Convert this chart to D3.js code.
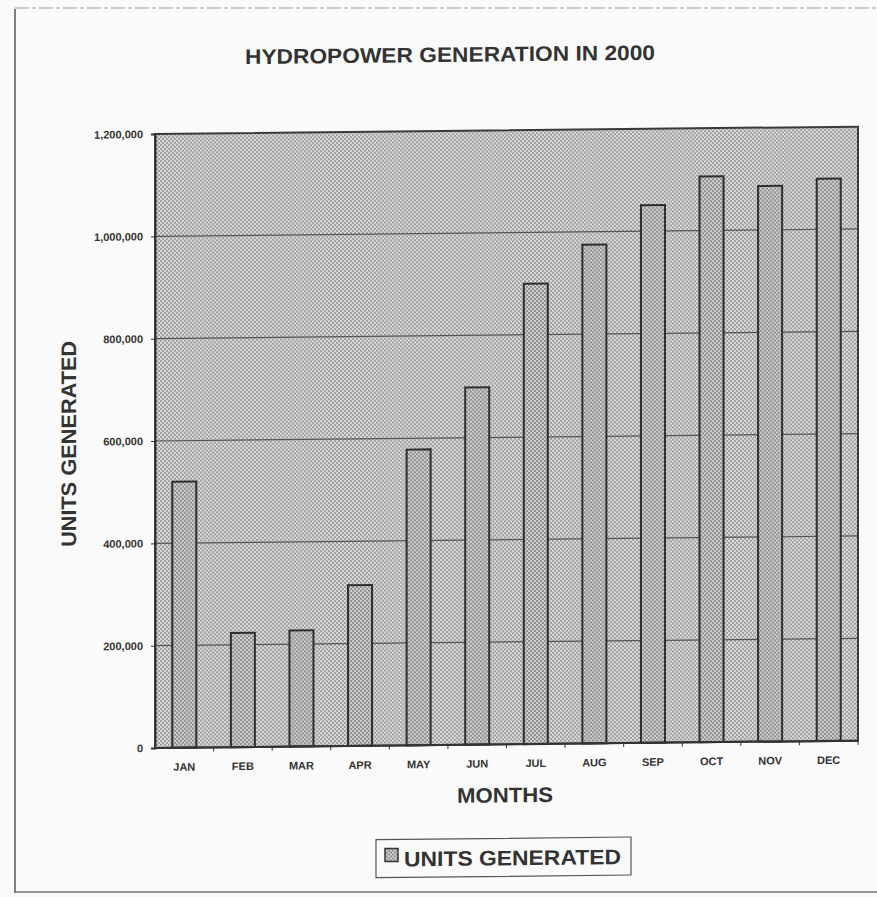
<!DOCTYPE html>
<html>
<head>
<meta charset="utf-8">
<script src="https://cdn.jsdelivr.net/npm/d3@7/dist/d3.min.js"></script>
<style>
  html, body { margin: 0; padding: 0; background: #fafafa; }
  svg { display: block; }
  text { font-family: "Liberation Sans", Arial, sans-serif; fill: #333; }
</style>
</head>
<body>
<svg id="chart" width="877" height="897"></svg>
<script>
// Monthly hydropower output, year 2000
const months = ["JAN", "FEB", "MAR", "APR", "MAY", "JUN", "JUL", "AUG", "SEP", "OCT", "NOV", "DEC"];
const unitsGenerated = [520000, 223000, 227000, 314000, 578000, 698000, 900000, 975000, 1051000, 1106000, 1086000, 1099000];
const yTicks = [0, 200000, 400000, 600000, 800000, 1000000, 1200000];

const titleText = "HYDROPOWER GENERATION IN 2000";
const xTitle = "MONTHS";
const yTitle = "UNITS GENERATED";
const seriesName = "UNITS GENERATED";

const svg = d3.select("#chart");
const plot = { left: 155, right: 858, top: 134, bottom: 748 };

// halftone fills
const defs = svg.append("defs");
function halftone(id, light, dark) {
  const p = defs.append("pattern").attr("id", id)
    .attr("patternUnits", "userSpaceOnUse").attr("width", 4).attr("height", 4);
  p.append("rect").attr("width", 4).attr("height", 4).attr("fill", light);
  p.append("rect").attr("x", 0).attr("y", 0).attr("width", 2).attr("height", 2).attr("fill", dark);
  p.append("rect").attr("x", 2).attr("y", 2).attr("width", 2).attr("height", 2).attr("fill", dark);
}
halftone("bgDots", "#dedede", "#9d9d9d");
halftone("barDots", "#d2d2d2", "#8e8e8e");

// page border
svg.append("line").attr("x1", 15).attr("x2", 15).attr("y1", 9).attr("y2", 893)
  .attr("stroke", "#555").attr("stroke-width", 1.5);
svg.append("line").attr("x1", 15).attr("x2", 877).attr("y1", 8).attr("y2", 8)
  .attr("stroke", "#999").attr("stroke-width", 1).attr("stroke-dasharray", "14,3,4,3");
svg.append("line").attr("x1", 15).attr("x2", 877).attr("y1", 892).attr("y2", 892)
  .attr("stroke", "#777").attr("stroke-width", 1.5);

// the printed page sits slightly askew
const g = svg.append("g")
  .attr("transform", `translate(${plot.left},${plot.bottom}) skewY(-0.6) translate(${-plot.left},${-plot.bottom})`);

const x = d3.scaleBand().domain(months).range([plot.left, plot.right]).paddingInner(0.59).paddingOuter(0.295);
const xb = d3.scaleBand().domain(months).range([plot.left, plot.right]);
const y = d3.scaleLinear().domain([0, 1200000]).range([plot.bottom, plot.top]);

// plot background
g.append("rect").attr("x", plot.left).attr("y", plot.top)
  .attr("width", plot.right - plot.left).attr("height", plot.bottom - plot.top)
  .attr("fill", "url(#bgDots)");

// gridlines
g.append("g").selectAll("line").data(yTicks.filter(d => d > 0 && d < 1200000)).join("line")
  .attr("x1", plot.left).attr("x2", plot.right)
  .attr("y1", d => y(d)).attr("y2", d => y(d))
  .attr("stroke", "#555").attr("stroke-width", 1.2);

// bars
g.append("g").selectAll("rect").data(months).join("rect")
  .attr("x", d => x(d))
  .attr("y", (d, i) => y(unitsGenerated[i]))
  .attr("width", x.bandwidth())
  .attr("height", (d, i) => y(0) - y(unitsGenerated[i]))
  .attr("fill", "url(#barDots)")
  .attr("stroke", "#2e2e2e").attr("stroke-width", 2);

// frame
g.append("rect").attr("x", plot.left).attr("y", plot.top)
  .attr("width", plot.right - plot.left).attr("height", plot.bottom - plot.top)
  .attr("fill", "none").attr("stroke", "#3a3a3a").attr("stroke-width", 2);

// y axis
const yAxis = d3.axisLeft(y).tickValues(yTicks).tickSize(4).tickPadding(8)
  .tickFormat(d3.format(","));
const ya = g.append("g").attr("transform", `translate(${plot.left},0)`).call(yAxis);
ya.select(".domain").attr("stroke", "#333").attr("stroke-width", 2);
ya.selectAll(".tick line").attr("stroke", "#333");
ya.selectAll(".tick text").attr("font-size", 11).attr("font-weight", "bold")
  .attr("font-family", "Liberation Sans, Arial, sans-serif").attr("fill", "#3a3a3a");

// x axis: ticks on category boundaries, labels centred
const xa = g.append("g").attr("transform", `translate(0,${plot.bottom})`);
xa.append("line").attr("x1", plot.left).attr("x2", plot.right).attr("stroke", "#333").attr("stroke-width", 2);
xa.selectAll(".bound").data(months).join("line").attr("class", "bound")
  .attr("x1", d => xb(d) + xb.bandwidth()).attr("x2", d => xb(d) + xb.bandwidth())
  .attr("y1", 0).attr("y2", 4).attr("stroke", "#333");
xa.selectAll("text").data(months).join("text")
  .attr("x", d => xb(d) + xb.bandwidth() / 2).attr("y", 23)
  .attr("text-anchor", "middle").attr("font-size", 11).attr("font-weight", "bold")
  .attr("fill", "#3a3a3a").text(d => d);

// titles
g.append("text").attr("x", 450).attr("y", 65).attr("text-anchor", "middle")
  .attr("font-size", 21).attr("font-weight", "bold").attr("fill", "#2f2f2f")
  .attr("textLength", 410).attr("lengthAdjust", "spacingAndGlyphs").text(titleText);

g.append("text").attr("x", 505).attr("y", 806).attr("text-anchor", "middle")
  .attr("font-size", 21).attr("font-weight", "bold").attr("fill", "#333")
  .attr("textLength", 96).attr("lengthAdjust", "spacingAndGlyphs").text(xTitle);

g.append("text").attr("transform", "translate(76,443) rotate(-90)").attr("text-anchor", "middle")
  .attr("font-size", 21).attr("font-weight", "bold").attr("fill", "#333")
  .attr("textLength", 206).attr("lengthAdjust", "spacingAndGlyphs").text(yTitle);

// legend
const lg = g.append("g");
lg.append("rect").attr("x", 376).attr("y", 842).attr("width", 255).attr("height", 38)
  .attr("fill", "#fafafa").attr("stroke", "#555").attr("stroke-width", 1.2);
lg.append("rect").attr("x", 385).attr("y", 851).attr("width", 13).attr("height", 13)
  .attr("fill", "url(#barDots)").attr("stroke", "#333").attr("stroke-width", 1.5);
lg.append("text").attr("x", 404).attr("y", 869)
  .attr("font-size", 21).attr("font-weight", "bold").attr("fill", "#333")
  .attr("textLength", 217).attr("lengthAdjust", "spacingAndGlyphs").text(seriesName);
</script>
</body>
</html>
